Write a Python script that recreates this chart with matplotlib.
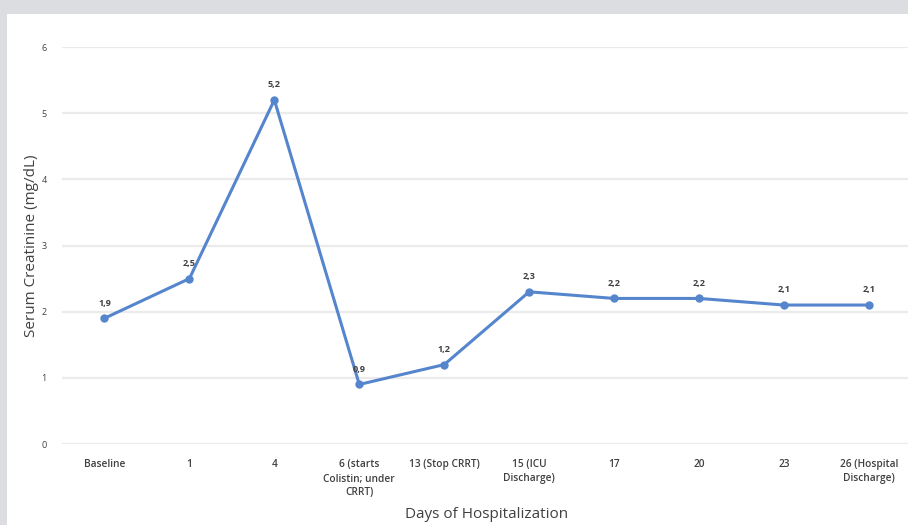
import matplotlib
matplotlib.use("Agg")
import matplotlib.pyplot as plt
from matplotlib.patches import Rectangle

categories = ["Baseline", "1", "4", "6 (starts\nColistin; under\nCRRT)", "13 (Stop CRRT)",
              "15 (ICU\nDischarge)", "17", "20", "23", "26 (Hospital\nDischarge)"]
values = [1.9, 2.5, 5.2, 0.9, 1.2, 2.3, 2.2, 2.2, 2.1, 2.1]
yticks = [0, 1, 2, 3, 4, 5, 6]

W, H = 908, 525
fig = plt.figure(figsize=(W / 100, H / 100), dpi=100)
fig.patch.set_facecolor("#dcdde0")
fig.patches.append(Rectangle((7 / W, 0), 1 - 7 / W, 1 - 14 / H, transform=fig.transFigure,
                             facecolor="white", edgecolor="none", zorder=-10))

left, right = 62 / W, 1.0
bottom, top = 1 - 444 / H, 1 - 47 / H
ax = fig.add_axes([left, bottom, right - left, top - bottom])
ax.set_facecolor("none")
ax.set_zorder(5)

font = "Open Sans"
tc = "#404040"
x = list(range(len(categories)))
ax.plot(x, values, color="#5585cc", lw=2.2, marker="o", ms=5, zorder=3, clip_on=False)
for xi, v in zip(x, values):
    ax.annotate(f"{v:.1f}".replace(".", ","), (xi, v), xytext=(0, 11), textcoords="offset points",
                ha="center", va="center", fontsize=6.5, color=tc, fontweight="bold", family=font)

ax.set_xlim(-0.5, 9.46)
ax.set_ylim(0, 6)
ax.set_yticks(yticks)
ax.set_yticklabels([str(t) for t in yticks], family=font, fontsize=6.5, color=tc)
ax.set_xticks(x)
ax.set_xticklabels(categories, family=font, fontsize=7.3, color=tc, fontweight="semibold",
                   linespacing=1.4)
ax.tick_params(length=0, pad=11, axis="y")
ax.tick_params(length=0, pad=10.5, axis="x")
ax.grid(axis="y", color="#ebebeb", lw=1.6)
ax.set_axisbelow(True)
for s in ax.spines.values():
    s.set_visible(False)

fig.text(32 / W, 1 - 246 / H, "Serum Creatinine (mg/dL)", rotation=90, ha="center", va="center",
         family=font, fontsize=11, color=tc)
fig.text(487 / W, 1 - 514 / H, "Days of Hospitalization", ha="center", va="center",
         family=font, fontsize=11, color=tc)

fig.savefig("out.png", dpi=100)
